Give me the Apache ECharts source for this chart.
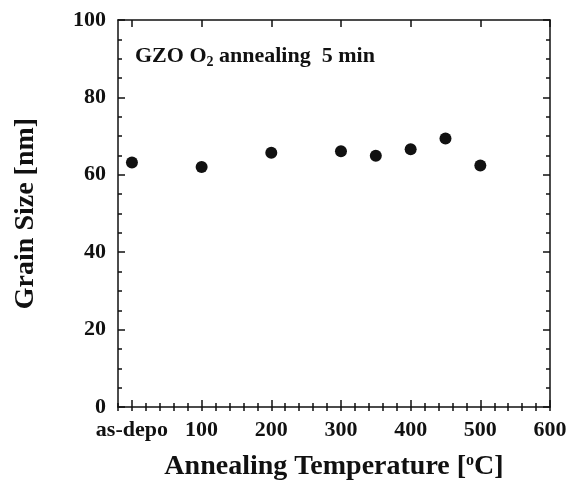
<!DOCTYPE html>
<html>
<head>
<meta charset="utf-8">
<script src="https://cdn.jsdelivr.net/npm/echarts@6/dist/echarts.min.js"></script>
<style>
  html, body { margin: 0; padding: 0; background: #fff; }
  #chart { width: 570px; height: 482px; }
</style>
</head>
<body>
<div id="chart"></div>
<script>
// Grain size of GZO films after 5 min O2 annealing
const temperatures = [0, 100, 200, 300, 350, 400, 450, 500];
const grainSizes = [63.2, 62.0, 65.7, 66.1, 64.9, 66.6, 69.4, 62.4];
const xTickValues = [0, 100, 200, 300, 400, 500, 600];
const xTickLabels = ['as-depo', '100', '200', '300', '400', '500', '600'];
const yTickValues = [0, 20, 40, 60, 80, 100];

const FONT = '"Liberation Serif", "DejaVu Serif", serif';
const INK = '#111';

const chart = echarts.init(document.getElementById('chart'), null, { renderer: 'canvas' });

const lineStyle = { color: INK, width: 1.5 };

function xAxisBase(extra) {
  return Object.assign({
    type: 'value',
    min: -20,
    max: 600,
    splitLine: { show: false },
    axisLine: { show: true, onZero: false, lineStyle: lineStyle }
  }, extra);
}

function yAxisBase(extra) {
  return Object.assign({
    type: 'value',
    min: 0,
    max: 100,
    interval: 20,
    splitLine: { show: false },
    axisLine: { show: true, onZero: false, lineStyle: lineStyle },
    axisTick: { show: true, inside: true, length: 7, lineStyle: lineStyle },
    minorTick: { show: true, splitNumber: 4, length: 4, lineStyle: lineStyle }
  }, extra);
}

const option = {
  backgroundColor: '#fff',
  animation: false,
  grid: { left: 118, right: 20, top: 20, bottom: 75, outerBoundsMode: 'none', containLabel: false },
  xAxis: [
    // main bottom axis: labels, major ticks and name
    xAxisBase({
      position: 'bottom',
      axisTick: { show: true, inside: true, length: 7, lineStyle: lineStyle, customValues: xTickValues },
      axisLabel: {
        show: true,
        customValues: xTickValues,
        margin: 12,
        color: INK,
        fontFamily: FONT,
        fontWeight: 'bold',
        fontSize: 22,
        formatter: function (v) {
          const i = xTickValues.indexOf(v);
          return i >= 0 ? xTickLabels[i] : '';
        }
      },
      name: 'Annealing Temperature [{sup|o}C]',
      nameLocation: 'middle',
      nameGap: 46,
      nameTextStyle: {
        color: INK,
        fontFamily: FONT,
        fontWeight: 'bold',
        fontSize: 28,
        rich: {
          sup: { fontFamily: FONT, fontWeight: 'bold', fontSize: 16, verticalAlign: 'top', padding: [0, 0, 12, 0], color: INK }
        }
      }
    }),
    // bottom minor ticks every 20
    xAxisBase({
      position: 'bottom',
      interval: 20,
      axisLine: { show: false },
      axisTick: { show: true, inside: true, length: 4, lineStyle: lineStyle },
      axisLabel: { show: false }
    }),
    // mirrored top frame with ticks
    xAxisBase({
      position: 'top',
      axisTick: { show: true, inside: true, length: 7, lineStyle: lineStyle, customValues: xTickValues },
      axisLabel: { show: false }
    }),
    xAxisBase({
      position: 'top',
      interval: 20,
      axisLine: { show: false },
      axisTick: { show: true, inside: true, length: 4, lineStyle: lineStyle },
      axisLabel: { show: false }
    })
  ],
  yAxis: [
    yAxisBase({
      position: 'left',
      axisLabel: {
        color: INK,
        fontFamily: FONT,
        fontWeight: 'bold',
        fontSize: 22,
        margin: 12,
        customValues: yTickValues
      },
      name: 'Grain Size [nm]',
      nameLocation: 'middle',
      nameGap: 78,
      nameRotate: 90,
      nameTextStyle: { color: INK, fontFamily: FONT, fontWeight: 'bold', fontSize: 28 }
    }),
    yAxisBase({
      position: 'right',
      axisLabel: { show: false }
    })
  ],
  graphic: [
    {
      type: 'text',
      left: 135,
      top: 45,
      style: {
        text: 'GZO O{sub|2} annealing  5 min',
        fill: INK,
        font: 'bold 22px ' + FONT,
        rich: {
          sub: { fontFamily: FONT, fontWeight: 'bold', fontSize: 14, verticalAlign: 'bottom', padding: [12, 0, 0, 0], fill: INK }
        }
      }
    }
  ],
  series: [
    {
      type: 'scatter',
      xAxisIndex: 0,
      yAxisIndex: 0,
      data: temperatures.map((t, i) => [t, grainSizes[i]]),
      symbol: 'circle',
      symbolSize: 12,
      itemStyle: { color: INK, opacity: 1 }
    }
  ]
};

chart.setOption(option);
</script>
</body>
</html>
